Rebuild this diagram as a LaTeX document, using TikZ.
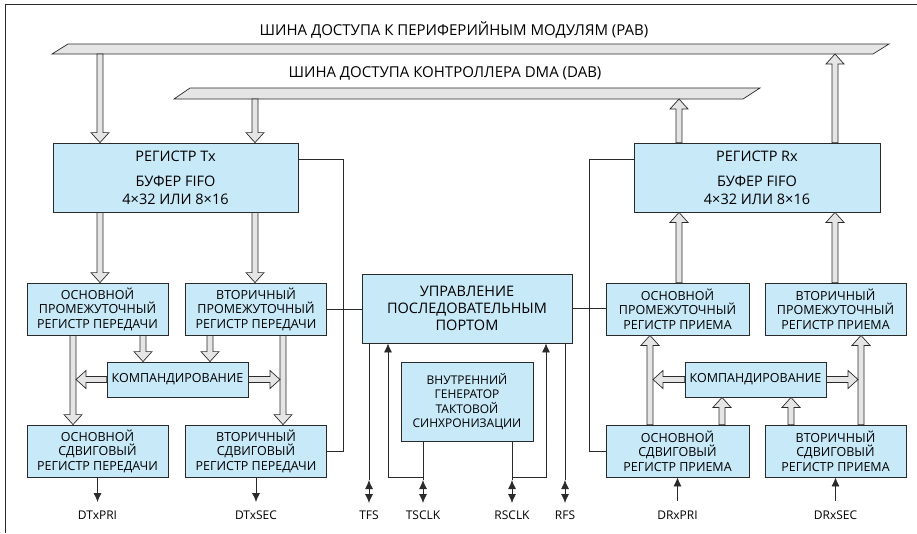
\documentclass[tikz,border=0pt]{standalone}
\usepackage{fontspec}
\setmainfont{Open Sans}
\usetikzlibrary{arrows.meta,calc}
\definecolor{boxblue}{HTML}{C8E9F8}
\definecolor{hgray}{HTML}{E5E5E5}
\definecolor{lin}{HTML}{2A2A2A}
\tikzset{
 box/.style={draw=lin, fill=boxblue, line width=0.8pt, align=center, inner sep=0pt, font=\fontsize{12.5}{14.5}\selectfont},
 tb/.style={box, minimum width=141pt, minimum height=52pt},
 bigbox/.style={box, minimum height=69pt, font=\fontsize{14.5}{17}\selectfont},
 hollow/.style={draw=lin, fill=hgray, line width=0.7pt, line join=miter},
 wire/.style={draw=lin, line width=0.8pt},
 pin/.style={font=\fontsize{12}{13}\selectfont, inner sep=0pt},
 buslbl/.style={font=\fontsize{15}{17}\selectfont, inner sep=0pt},
 tip/.style={-{Latex[length=9pt,width=8pt]}},
 bi/.style={{Latex[length=9pt,width=8pt]}-{Latex[length=9pt,width=8pt]}},
}
\newcommand\harr[2]{\path let \p1=(#1), \p2=(#2), \n1={atan2(\y2-\y1,\x2-\x1)}, \n2={veclen(\x2-\x1,\y2-\y1)}, \n3={\n2-10pt} in [hollow, shift={(\p1)}, rotate=\n1] (0pt,-3pt) -- (\n3,-3pt) -- (\n3,-9pt) -- (\n2,0pt) -- (\n3,9pt) -- (\n3,3pt) -- (0pt,3pt) -- cycle;}
\begin{document}
\begin{tikzpicture}[x=1pt,y=-1pt]
\useasboundingbox (0,0) rectangle (917,533);
% frame
\draw[draw=lin, line width=1pt] (917,4) -- (5,4) -- (5,533);
% buses
\draw[hollow] (52,54) -- (68,44) -- (889,44) -- (873,54) -- cycle;
\draw[hollow] (174,99) -- (190,88) -- (760,88) -- (743,99) -- cycle;
\coordinate (pabS) at (460,54);
\coordinate (dabS) at (460,99);
\node[buslbl] (pabL) at (454,30) {ШИНА ДОСТУПА К ПЕРИФЕРИЙНЫМ МОДУЛЯМ (PAB)};
\node[buslbl] (dabL) at (445,73) {ШИНА ДОСТУПА КОНТРОЛЛЕРА DMA (DAB)};
% boxes
\node[bigbox, minimum width=245pt] (tx) at (175.5,177.5) {РЕГИСТР Tx\\[8pt]БУФЕР FIFO\\[1pt]4×32 ИЛИ 8×16};
\node[bigbox, minimum width=246pt] (rx) at (757,177.5) {РЕГИСТР Rx\\[8pt]БУФЕР FIFO\\[1pt]4×32 ИЛИ 8×16};
\node[tb] (pTI) at (97.5,309) {ОСНОВНОЙ\\ПРОМЕЖУТОЧНЫЙ\\РЕГИСТР ПЕРЕДАЧИ};
\node[tb] (sTI) at (256,309) {ВТОРИЧНЫЙ\\ПРОМЕЖУТОЧНЫЙ\\РЕГИСТР ПЕРЕДАЧИ};
\node[box, minimum width=141pt, minimum height=35pt] (compL) at (177.5,379.5) {КОМПАНДИРОВАНИЕ};
\node[tb] (pTS) at (97.5,451) {ОСНОВНОЙ\\СДВИГОВЫЙ\\РЕГИСТР ПЕРЕДАЧИ};
\node[tb] (sTS) at (256,451) {ВТОРИЧНЫЙ\\СДВИГОВЫЙ\\РЕГИСТР ПЕРЕДАЧИ};
\node[bigbox, minimum width=210pt] (ctrl) at (467,308.5) {УПРАВЛЕНИЕ\\ПОСЛЕДОВАТЕЛЬНЫМ\\ПОРТОМ};
\node[box, minimum width=132pt, minimum height=79pt, font=\fontsize{12}{14.5}\selectfont] (gen) at (467,401.5) {ВНУТРЕННИЙ\\ГЕНЕРАТОР\\ТАКТОВОЙ\\СИНХРОНИЗАЦИИ};
\node[tb, minimum width=143pt] (pRI) at (677.5,309) {ОСНОВНОЙ\\ПРОМЕЖУТОЧНЫЙ\\РЕГИСТР ПРИЕМА};
\node[tb] (sRI) at (835.5,309) {ВТОРИЧНЫЙ\\ПРОМЕЖУТОЧНЫЙ\\РЕГИСТР ПРИЕМА};
\node[box, minimum width=141pt, minimum height=35pt] (compR) at (755.5,379.5) {КОМПАНДИРОВАНИЕ};
\node[tb, minimum width=143pt] (pRS) at (677.5,451) {ОСНОВНОЙ\\СДВИГОВЫЙ\\РЕГИСТР ПРИЕМА};
\node[tb] (sRS) at (835.5,451) {ВТОРИЧНЫЙ\\СДВИГОВЫЙ\\РЕГИСТР ПРИЕМА};
% columns
\coordinate (c1) at (100,0);
\coordinate (c2) at (255,0);
\coordinate (c3) at (679,0);
\coordinate (c4) at (835,0);
\coordinate (c5) at (73,0);
\coordinate (c6) at (283,0);
\coordinate (c7) at (143,0);
\coordinate (c8) at (210,0);
\coordinate (c9) at (650,0);
\coordinate (c10) at (861,0);
\coordinate (c11) at (722,0);
\coordinate (c12) at (791,0);
% hollow arrows
\harr{c1 |- pabS}{c1 |- tx.north}
\harr{c2 |- dabS}{c2 |- tx.north}
\harr{c3 |- rx.north}{c3 |- dabS}
\harr{c4 |- rx.north}{c4 |- pabS}
\harr{c1 |- tx.south}{c1 |- pTI.north}
\harr{c2 |- tx.south}{c2 |- sTI.north}
\harr{c3 |- pRI.north}{c3 |- rx.south}
\harr{c4 |- sRI.north}{c4 |- rx.south}
\harr{c5 |- pTI.south}{c5 |- pTS.north}
\harr{c6 |- sTI.south}{c6 |- sTS.north}
\harr{c7 |- pTI.south}{c7 |- compL.north}
\harr{c8 |- sTI.south}{c8 |- compL.north}
\harr{compL.west}{$(compL.west -| c5)+(3,0)$}
\harr{compL.east}{$(compL.east -| c6)+(-3,0)$}
\harr{c9 |- pRS.north}{c9 |- pRI.south}
\harr{c10 |- sRS.north}{c10 |- sRI.south}
\harr{c11 |- pRS.north}{c11 |- compR.south}
\harr{c12 |- sRS.north}{c12 |- compR.south}
\harr{compR.west}{$(compR.west -| c9)+(3,0)$}
\harr{compR.east}{$(compR.east -| c10)+(-3,0)$}
% wires
\draw[wire] ([yshift=-17pt]tx.north east) -- ++(45,0) |- (sTS.east);
\draw[wire] ([yshift=-17pt]rx.north west) -- ++(-44,0) |- (pRS.west);
\draw[wire] (sTI.east) -- (sTI.east -| ctrl.west);
\draw[wire] (ctrl.east) -- (ctrl.east -| pRI.west);
% pins
\node[pin] (dtp) at (97.5,515) {DTxPRI};
\node[pin] (dts) at (256,515) {DTxSEC};
\node[pin] (tfs) at (369,515) {TFS};
\node[pin] (tsc) at (423,515) {TSCLK};
\node[pin] (rsc) at (512,515) {RSCLK};
\node[pin] (rfs) at (565,515) {RFS};
\node[pin] (drp) at (677.5,515) {DRxPRI};
\node[pin] (drs) at (835.5,515) {DRxSEC};
\coordinate (dtpE) at (97.5,502);
\coordinate (dtsE) at (256,502);
\coordinate (drpE) at (677.5,501);
\coordinate (drsE) at (835.5,501);
\draw[wire,tip] (pTS.south) -- (dtpE);
\draw[wire,tip] (sTS.south) -- (dtsE);
\draw[wire,tip] (drpE) -- (pRS.south);
\draw[wire,tip] (drsE) -- (sRS.south);
\coordinate (tfsA) at (369,480); \coordinate (tfsB) at (369,503);
\coordinate (tscA) at (423,480); \coordinate (tscB) at (423,503);
\coordinate (rscA) at (512,480); \coordinate (rscB) at (512,503);
\coordinate (rfsA) at (565,480); \coordinate (rfsB) at (565,503);
\coordinate (tscJ) at (423,477); \coordinate (tscU) at (388,0);
\coordinate (rscJ) at (512,477); \coordinate (rscU) at (546,0);
\draw[wire] (ctrl.south -| tfsA) -- (tfsA);
\draw[wire] (ctrl.south -| rfsA) -- (rfsA);
\draw[wire] (gen.south -| tscA) -- (tscA);
\draw[wire] (gen.south -| rscA) -- (rscA);
\draw[wire,bi] (tfsA) -- (tfsB);
\draw[wire,bi] (tscA) -- (tscB);
\draw[wire,bi] (rscA) -- (rscB);
\draw[wire,bi] (rfsA) -- (rfsB);
\draw[wire,tip] (tscJ) -| (ctrl.south -| tscU);
\draw[wire,tip] (rscJ) -| (ctrl.south -| rscU);
\end{tikzpicture}
\end{document}
